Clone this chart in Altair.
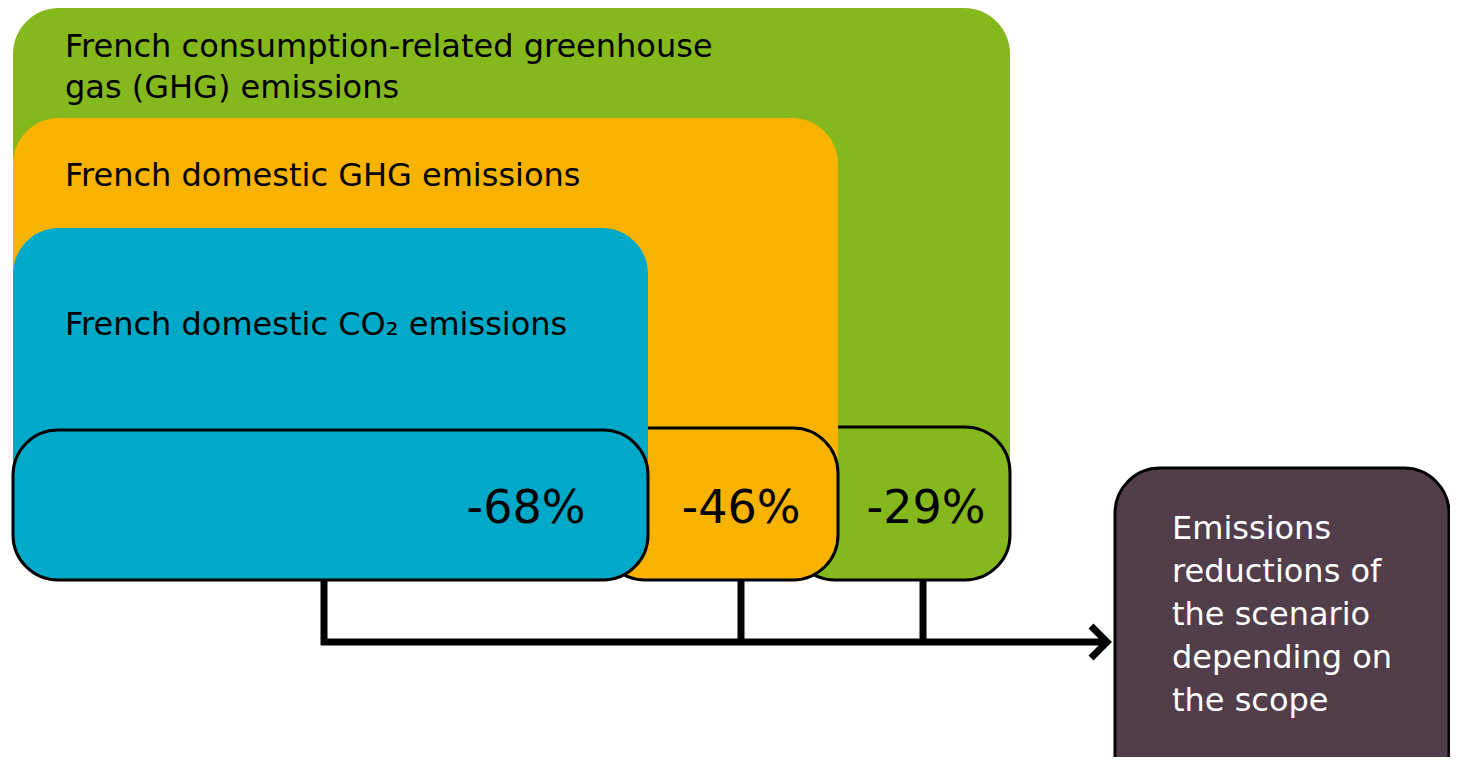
import altair as alt
import pandas as pd

# ---- data (screen-pixel coordinates of the diagram) ----
scope_titles = [
    "French consumption-related greenhouse\ngas (GHG) emissions",
    "French domestic GHG emissions",
    "French domestic CO\u2082 emissions",
]
reductions = ["-29%", "-46%", "-68%"]
fills = ["#84B81C", "#F8B300", "#00A9C7"]
panel_left = [13, 13, 13]
panel_right = [1010, 838, 648]
panel_top = [8, 118, 228]
panel_bottom = [476, 476, 476]
box_left = [790, 600, 13]
box_top = [427, 428, 430]
box_bottom = [580, 580, 580]
title_x = [65, 65, 65]
title_y = [57, 186, 335]
label_x = [926, 741, 526]
label_y = [523, 523, 523]

conn_x = [324, 741, 923]
conn_top = [580, 580, 580]
conn_bottom = [645, 645, 645]
bus_x = [321, 1108]
bus_y = [642, 642]
arrow_x = [1091, 1107, 1091]
arrow_y = [626, 642, 658]

result_box = {"x": 1115, "x2": 1449, "y": 468, "y2": 800}
result_text = "Emissions\nreductions of\nthe scenario\ndepending on\nthe scope"
result_text_x = 1172
result_text_y = 539

FONT = "DejaVu Sans"
W, H = 1442, 749
xs = alt.Scale(domain=[8, 8 + W], nice=False, zero=False)
ys = alt.Scale(domain=[8, 8 + H], nice=False, zero=False, reverse=True)


def X(f):
    return alt.X(f, type="quantitative", scale=xs, axis=None)


def Y(f):
    return alt.Y(f, type="quantitative", scale=ys, axis=None)


scopes = pd.DataFrame({
    "title": scope_titles, "label": reductions, "fill": fills,
    "pl": panel_left, "pr": panel_right, "pt": panel_top, "pb": panel_bottom,
    "bl": box_left, "bt": box_top, "bb": box_bottom,
    "tx": title_x, "ty": title_y, "lx": label_x, "ly": label_y,
})

layers = []
for i in range(3):
    d = scopes.iloc[[i]]
    panel = alt.Chart(d).mark_rect(
        cornerRadiusTopLeft=46, cornerRadiusTopRight=46
    ).encode(
        x=X("pl"), x2="pr", y=Y("pt"), y2="pb",
        fill=alt.Fill("fill:N", scale=None),
    )
    box = alt.Chart(d).mark_rect(
        cornerRadius=45, stroke="black", strokeWidth=3
    ).encode(
        x=X("bl"), x2="br:Q", y=Y("bt"), y2="bb",
        fill=alt.Fill("fill:N", scale=None),
    ).transform_calculate(br="datum.pr")
    layers += [panel, box]

titles = alt.Chart(scopes).mark_text(
    align="left", baseline="alphabetic", font=FONT, fontSize=32,
    lineBreak="\n", lineHeight=41, color="black",
).encode(x=X("tx"), y=Y("ty"), text="title:N")

labels = alt.Chart(scopes).mark_text(
    align="center", baseline="alphabetic", font=FONT, fontSize=46, color="black",
).encode(x=X("lx"), y=Y("ly"), text="label:N")

conn = alt.Chart(pd.DataFrame({"x": conn_x, "y": conn_top, "y2": conn_bottom})).mark_rule(
    color="black", strokeWidth=7
).encode(x=X("x"), y=Y("y"), y2="y2")

bus = alt.Chart(pd.DataFrame({"x": [bus_x[0]], "x2": [bus_x[1]], "y": [bus_y[0]]})).mark_rule(
    color="black", strokeWidth=7
).encode(x=X("x"), x2="x2", y=Y("y"))

arrow = alt.Chart(pd.DataFrame({"x": arrow_x, "y": arrow_y, "o": [0, 1, 2]})).mark_line(
    color="black", strokeWidth=7, strokeJoin="miter", strokeCap="butt"
).encode(x=X("x"), y=Y("y"), order="o:Q")

rbox = alt.Chart(pd.DataFrame([result_box])).mark_rect(
    cornerRadius=45, stroke="black", strokeWidth=3, fill="#523E4B"
).encode(x=X("x"), x2="x2", y=Y("y"), y2="y2")

rtext = alt.Chart(pd.DataFrame({"t": [result_text], "x": [result_text_x], "y": [result_text_y]})).mark_text(
    align="left", baseline="alphabetic", font=FONT, fontSize=32,
    lineBreak="\n", lineHeight=43, color="white",
).encode(x=X("x"), y=Y("y"), text="t:N")

chart = alt.layer(*layers, titles, labels, conn, bus, arrow, rbox, rtext).properties(
    width=W, height=H, autosize=alt.AutoSizeParams(type="none"), padding=0,
).configure_view(strokeWidth=0)

chart.save("out.html", embed_options={"renderer": "svg", "actions": False})
